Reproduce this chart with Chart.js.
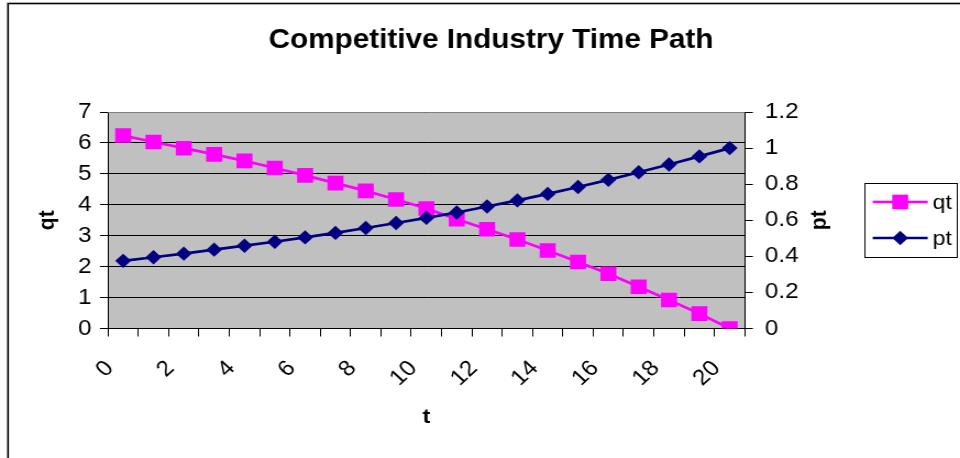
<!DOCTYPE html>
<html>
<head>
<meta charset="utf-8">
<script src="https://cdn.jsdelivr.net/npm/chart.js@4/dist/chart.umd.min.js"></script>
<style>
  html, body { margin: 0; padding: 0; background: #fff; overflow: hidden; }
  /* chart drawn on an 873px canvas and widened to the 960px window */
  #wrap { width: 873px; height: 458px; transform: scaleX(1.0997); transform-origin: 0 0; }
</style>
</head>
<body>
<div id="wrap"><canvas id="c" width="873" height="458"></canvas></div>
<script>
// time periods t
const periods = ['0','1','2','3','4','5','6','7','8','9','10','11','12','13','14','15','16','17','18','19','20'];
// industry output q(t)
const qt = [6.24, 6.03, 5.83, 5.63, 5.42, 5.19, 4.95, 4.70, 4.45, 4.17, 3.88, 3.53, 3.21, 2.88, 2.52, 2.15, 1.77, 1.35, 0.92, 0.48, 0.00];
// price p(t)
const pt = [0.375, 0.395, 0.415, 0.437, 0.459, 0.481, 0.505, 0.530, 0.557, 0.585, 0.613, 0.643, 0.676, 0.710, 0.746, 0.784, 0.824, 0.866, 0.909, 0.954, 1.000];
// axis ranges
const qtAxis = { min: 0, max: 7, step: 1 };
const ptAxis = { min: 0, max: 1.2, step: 0.2 };

const FONT = "'Liberation Sans', Arial, Helvetica, sans-serif";
const QT_COLOR = '#FF00FF';
const PT_COLOR = '#000080';
const TICK_SIZE = 22;

function drawMarker(ctx, style, x, y, r, color) {
  ctx.save();
  ctx.fillStyle = color;
  ctx.beginPath();
  if (style === 'rect') {
    const s = r * Math.SQRT1_2;
    ctx.rect(x - s, y - s, 2 * s, 2 * s);
  } else {
    ctx.moveTo(x, y - r);
    ctx.lineTo(x + r, y);
    ctx.lineTo(x, y + r);
    ctx.lineTo(x - r, y);
    ctx.closePath();
  }
  ctx.fill();
  ctx.restore();
}

const frame = {
  id: 'frame',
  beforeDraw(chart) {
    const { ctx, chartArea: a } = chart;
    ctx.save();
    ctx.fillStyle = '#C0C0C0';
    ctx.fillRect(a.left, a.top, a.right - a.left, a.bottom - a.top);
    // outer chart border
    ctx.strokeStyle = '#000';
    ctx.lineWidth = 1.6;
    ctx.strokeRect(7.3, 3.5, chart.width + 40, chart.height + 40);
    ctx.restore();
  },
  beforeDatasetsDraw(chart) {
    const { ctx, chartArea: a } = chart;
    ctx.save();
    ctx.strokeStyle = '#808080';
    ctx.lineWidth = 1;
    ctx.beginPath();
    ctx.moveTo(a.left, Math.round(a.top) + 0.5);
    ctx.lineTo(a.right, Math.round(a.top) + 0.5);
    ctx.stroke();
    ctx.restore();
  },
  afterDraw(chart) {
    const { ctx, chartArea: a } = chart;
    ctx.save();
    // right axis title
    ctx.fillStyle = '#000';
    ctx.font = 'bold 21px ' + FONT;
    ctx.textAlign = 'center';
    ctx.textBaseline = 'middle';
    ctx.translate(745.5, (a.top + a.bottom) / 2);
    ctx.rotate(-Math.PI / 2);
    ctx.fillText('pt', 0, 0);
    ctx.restore();

    // legend
    ctx.save();
    ctx.strokeStyle = '#000';
    ctx.lineWidth = 1;
    ctx.strokeRect(786.5, 183.5, 84, 74);
    const rows = [
      { label: 'qt', color: QT_COLOR, style: 'rect', r: 10.3, y: 202 },
      { label: 'pt', color: PT_COLOR, style: 'rectRot', r: 7.2, y: 238 }
    ];
    rows.forEach(row => {
      ctx.strokeStyle = row.color;
      ctx.lineWidth = 2.7;
      ctx.beginPath();
      ctx.moveTo(793.6, row.y);
      ctx.lineTo(843.6, row.y);
      ctx.stroke();
      drawMarker(ctx, row.style, 818.6, row.y, row.r, row.color);
      ctx.fillStyle = '#000';
      ctx.font = '21px ' + FONT;
      ctx.textAlign = 'left';
      ctx.textBaseline = 'middle';
      ctx.fillText(row.label, 848, row.y + 1);
    });
    ctx.restore();
  }
};

new Chart(document.getElementById('c'), {
  type: 'line',
  data: {
    labels: periods,
    datasets: [
      {
        label: 'qt', data: qt, yAxisID: 'y', order: 1,
        borderColor: QT_COLOR, backgroundColor: QT_COLOR, borderWidth: 2.7,
        pointStyle: 'rect', pointRadius: 10.3, pointBorderWidth: 0,
        pointBackgroundColor: QT_COLOR, pointHoverRadius: 10.3, tension: 0
      },
      {
        label: 'pt', data: pt, yAxisID: 'y1', order: 0,
        borderColor: PT_COLOR, backgroundColor: PT_COLOR, borderWidth: 2.7,
        pointStyle: 'rectRot', pointRadius: 7.2, pointBorderWidth: 0,
        pointBackgroundColor: PT_COLOR, pointHoverRadius: 7.2, tension: 0
      }
    ]
  },
  options: {
    responsive: false,
    devicePixelRatio: 1,
    animation: false,
    events: [],
    layout: { padding: { left: 20, right: 0, top: 0, bottom: 0 } },
    plugins: {
      legend: { display: false },
      tooltip: { enabled: false },
      title: {
        display: true,
        text: 'Competitive Industry Time Path',
        color: '#000',
        font: { family: FONT, size: 27, weight: 'bold', lineHeight: 1.2 },
        padding: { top: 24, bottom: 55.6 }
      }
    },
    scales: {
      x: {
        type: 'category',
        offset: true,
        grid: { offset: true, drawOnChartArea: false, color: '#000', tickLength: 8 },
        border: { color: '#000', width: 1 },
        ticks: {
          autoSkip: false, minRotation: 45, maxRotation: 45,
          labelOffset: -12, padding: 19, color: '#000',
          font: { family: FONT, size: TICK_SIZE },
          callback: (v, i) => (i % 2 === 0 ? periods[i] : '')
        },
        title: {
          display: true, text: 't', color: '#000',
          font: { family: FONT, size: 21, weight: 'bold', lineHeight: 1.2 },
          padding: { top: 0, bottom: 28 }
        },
        afterFit(s) { s.height = 129.5; }
      },
      y: {
        position: 'left',
        min: qtAxis.min, max: qtAxis.max,
        grid: { color: '#000', tickLength: 7.3 },
        border: { color: '#000', width: 1 },
        ticks: { stepSize: qtAxis.step, padding: 7.6, color: '#000', font: { family: FONT, size: TICK_SIZE } },
        title: {
          display: true, text: 'qt', color: '#000',
          font: { family: FONT, size: 21, weight: 'bold', lineHeight: 1.2 },
          padding: { top: 10.2, bottom: 0 }
        },
        afterFit(s) { s.width = 78.2; }
      },
      y1: {
        position: 'right',
        min: ptAxis.min, max: ptAxis.max,
        grid: { drawOnChartArea: false, color: '#000', tickLength: 7.3 },
        border: { color: '#000', width: 1 },
        ticks: {
          stepSize: ptAxis.step, padding: 11, color: '#000',
          font: { family: FONT, size: TICK_SIZE },
          callback: v => String(Math.round(v * 10) / 10)
        },
        afterFit(s) { s.width = 195.7; }
      }
    }
  },
  plugins: [frame]
});
</script>
</body>
</html>
